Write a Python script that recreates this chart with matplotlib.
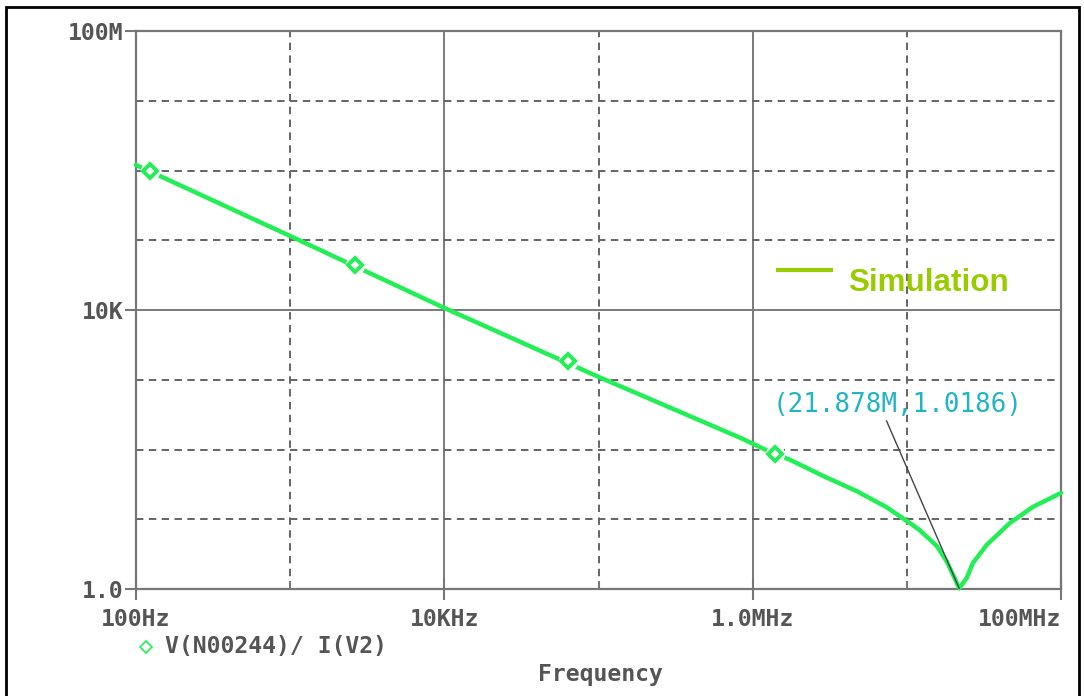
import matplotlib
matplotlib.use("Agg")
import matplotlib.pyplot as plt
from matplotlib.ticker import FixedLocator, NullLocator, NullFormatter
from matplotlib.patches import Rectangle
from matplotlib.lines import Line2D

# ---- data ----
freq_hz = [100, 1e3, 1e4, 1e5, 8.26e5, 1.39e6, 1.74e6, 2.85e6, 4.74e6,
           7.42e6, 1.045e7, 1.21e7, 1.57e7, 1.82e7, 2.05e7, 2.1878e7,
           2.45e7, 2.68e7, 3.3e7, 4.66e7, 6.56e7, 1e8]
impedance = [1.2e6, 1.15e5, 1.07e4, 1.1e3, 148, 86, 71.5, 42, 25.2,
             14.8, 8.84, 7.0, 4.1, 2.45, 1.4, 1.0186,
             1.45, 2.35, 4.3, 8.84, 15.0, 23.8]
marker_freq = [123, 2.63e3, 6.33e4, 1.39e6]
marker_z = [9.8e5, 4.42e4, 1.86e3, 86]

x_ticks = [1e2, 1e4, 1e6, 1e8]
x_ticklabels = ["100Hz", "10KHz", "1.0MHz", "100MHz"]
y_ticks = [1, 1e4, 1e8]
y_ticklabels = ["1.0", "10K", "100M"]
x_grid_dashed = [1e3, 1e5, 1e7]
x_grid_solid = [1e4, 1e6]
y_grid_dashed = [1e1, 1e2, 1e3, 1e5, 1e6, 1e7]
y_grid_solid = [1e4]

peak_label = "(21.878M,1.0186)"
peak_point = (2.1878e7, 1.0186)
trace_label = "V(N00244)/ I(V2)"
x_title = "Frequency"
legend_label = "Simulation"

W, H = 1084, 696
fig = plt.figure(figsize=(W / 100, H / 100), dpi=100)
ax = fig.add_axes([136 / W, 1 - 589 / H, (1061 - 136) / W, (589 - 31) / H])

GRID = "#646464"
TXT = "#555555"
GREEN = "#22ee55"

ax.set_xscale("log")
ax.set_yscale("log")
ax.set_xlim(1e2, 1e8)
ax.set_ylim(1, 1e8)

dash = (3.8, 2.8)
for x in x_grid_dashed:
    ax.axvline(x, color=GRID, lw=1.4, dashes=dash, zorder=1)
for x in x_grid_solid:
    ax.axvline(x, color="#7a7a7a", lw=1.4, zorder=1)
for y in y_grid_dashed:
    ax.axhline(y, color=GRID, lw=1.4, dashes=dash, zorder=1)
for y in y_grid_solid:
    ax.axhline(y, color="#7a7a7a", lw=1.4, zorder=1)

ax.plot(freq_hz, impedance, color=GREEN, lw=3.2, zorder=3, clip_on=False,
        solid_capstyle="round", solid_joinstyle="round")
ax.plot(marker_freq, marker_z, ls="none", marker="o", ms=13, mfc="white",
        mec="white", zorder=4)
ax.plot(marker_freq, marker_z, ls="none", marker="D", ms=7, mfc="white",
        mec=GREEN, mew=2.8, zorder=5)

# marker annotation
ax.annotate(peak_label, xy=peak_point, xytext=(1.35e6, 435),
            textcoords="data", color="#22b4c4", fontsize=18.6,
            family="DejaVu Sans Mono", va="center", ha="left",
            arrowprops=dict(arrowstyle="-", color="#444444", lw=1.0,
                            shrinkA=0, shrinkB=0,
                            relpos=(0.45, 0.0)), zorder=6)

for s in ax.spines.values():
    s.set_color("#777777")
    s.set_linewidth(1.6)

ax.xaxis.set_major_locator(FixedLocator(x_ticks))
ax.xaxis.set_minor_locator(FixedLocator(x_grid_dashed))
ax.xaxis.set_minor_formatter(NullFormatter())
ax.set_xticklabels(x_ticklabels)
ax.yaxis.set_major_locator(FixedLocator(y_ticks))
ax.yaxis.set_minor_locator(NullLocator())
ax.set_yticklabels(y_ticklabels)

FS = 16.7
ax.tick_params(axis="x", which="major", direction="inout", length=16,
               width=1.5, color="#777777", pad=6, labelsize=FS,
               labelcolor=TXT)
ax.tick_params(axis="x", which="minor", direction="in", length=6,
               width=1.5, color="#777777")
ax.tick_params(axis="y", which="major", direction="out", length=8,
               width=1.5, color="#777777", pad=1, labelsize=FS,
               labelcolor=TXT)
for lbl in ax.get_xticklabels() + ax.get_yticklabels():
    lbl.set_family("DejaVu Sans Mono")
    lbl.set_fontweight("bold")
ax.get_xticklabels()[-1].set_horizontalalignment("right")

# legend "Simulation"
fig.add_artist(Line2D([778 / W, 831 / W], [1 - 270 / H, 1 - 270 / H],
                      color="#99cc00", lw=3))
fig.text(848 / W, 1 - 283 / H, legend_label, color="#99cc00",
         fontsize=22.6, fontweight="bold", family="Liberation Sans",
         va="center", ha="left")

# trace legend below
fig.add_artist(Line2D([146 / W], [1 - 647 / H], marker="D", ms=6,
                      mfc="none", mec=GREEN, mew=1.2, ls="none"))
fig.text(165 / W, 1 - 647 / H, trace_label, color=TXT, fontsize=FS,
         family="DejaVu Sans Mono", fontweight="bold", va="center", ha="left")
fig.text(600 / W, 1 - 675 / H, x_title, color=TXT, fontsize=FS,
         family="DejaVu Sans Mono", fontweight="bold", va="center",
         ha="center")

# outer frame
fig.add_artist(Rectangle((6 / W, -0.02), (1079 - 6) / W, 1.02 - 7 / H,
                         transform=fig.transFigure, fill=False, lw=2,
                         ec="black"))

fig.savefig("out.png", dpi=100)
